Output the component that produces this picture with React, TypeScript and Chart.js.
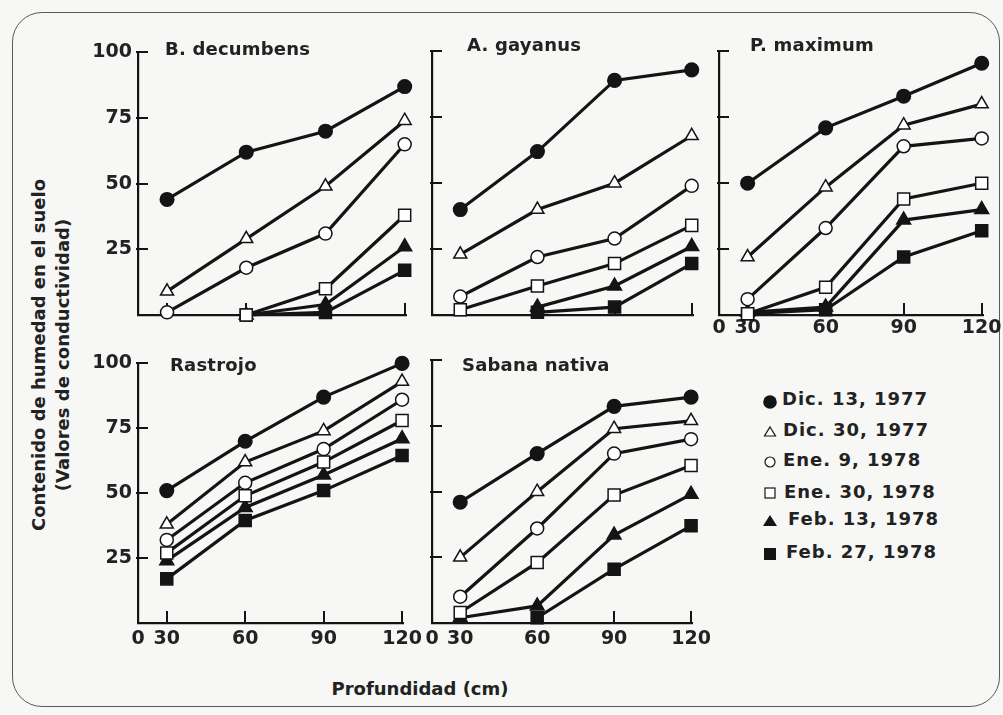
import React, { useEffect, useRef } from "react";
import { Chart, registerables } from "chart.js";

Chart.register(...registerables);

// ---------------- data ----------------
const depths = [30, 60, 90, 120];
const xTickValues = [19, 30, 60, 90, 120];
const xTickLabels = ["0", "30", "60", "90", "120"];
const yTickValues = [25, 50, 75, 100];

const seriesLabels = [
  "Dic. 13, 1977",
  "Dic. 30, 1977",
  "Ene. 9, 1978",
  "Ene. 30, 1978",
  "Feb. 13, 1978",
  "Feb. 27, 1978",
];

// order of rows: Dic13, Dic30, Ene9, Ene30, Feb13, Feb27
const bDecumbens = [
  [44, 62, 70, 87],
  [9, 29, 49, 74],
  [1, 18, 31, 65],
  [null, 0, 10, 38],
  [null, 0, 4, 26],
  [null, 0, 1, 17],
];
const aGayanus = [
  [40, 62, 89, 93],
  [23, 40, 50, 68],
  [7, 22, 29, 49],
  [2, 11, 19.5, 34],
  [null, 3, 11, 26],
  [null, 1, 3, 19.5],
];
const pMaximum = [
  [50, 71, 83, 95.5],
  [22, 48.5, 72, 80],
  [6, 33, 64, 67],
  [0.5, 10.5, 44, 50],
  [1, 3, 36, 40],
  [0.5, 2, 22, 32],
];
const rastrojo = [
  [51, 70, 87, 100],
  [38, 62, 74, 93],
  [32, 54, 67, 86],
  [27, 49, 62, 78],
  [24, 44.5, 57, 71],
  [17, 39.5, 51, 64.5],
];
const sabanaNativa = [
  [46, 64.5, 82.5, 86],
  [25, 50, 74, 77],
  [10, 36, 64.5, 70],
  [4, 23, 48.7, 60],
  [2, 6.5, 33.5, 49],
  [null, 2, 20.5, 37],
];

// ---------------- styles ----------------
const INK = "#141414";
const TEXT = "#222222";
const BG = "#f7f7f6";
const FONT = "'DejaVu Sans', sans-serif";

const pointStyles = ["circle", "triangle", "circle", "rect", "triangle", "rect"];
const pointFilled = [true, false, false, false, true, true];
const pointRadii = [6.8, 7.5, 6.5, 8.5, 8, 8.5];

const YW = 46; // y scale width
const XH = 30; // x scale height
const PT = 14; // top padding
const PR = 22; // right padding
const TICK = 10;

type PanelDef = {
  name: string;
  series: (number | null)[][];
  rect: [number, number, number, number];
  yLabels: boolean;
  xLabels: boolean;
  xPad: number;
  title: [number, number];
};

const panels: PanelDef[] = [
  { name: "B. decumbens", series: bDecumbens, rect: [138, 49, 406, 315], yLabels: true, xLabels: false, xPad: 3, title: [165, 40] },
  { name: "A. gayanus", series: aGayanus, rect: [432, 48, 693, 315], yLabels: false, xLabels: false, xPad: 3, title: [467, 36] },
  { name: "P. maximum", series: pMaximum, rect: [719, 48, 983, 315], yLabels: false, xLabels: true, xPad: 2, title: [750, 36] },
  { name: "Rastrojo", series: rastrojo, rect: [138, 360, 405, 623], yLabels: true, xLabels: true, xPad: 5, title: [170, 356] },
  { name: "Sabana nativa", series: sabanaNativa, rect: [432, 357, 694, 623], yLabels: false, xLabels: true, xPad: 5, title: [462, 356] },
];

const inwardTicks = {
  id: "inwardTicks",
  beforeDatasetsDraw(chart: any) {
    const { ctx, chartArea, scales } = chart;
    ctx.save();
    ctx.strokeStyle = INK;
    ctx.lineWidth = 2;
    ctx.beginPath();
    for (const t of scales.y.ticks) {
      const y = Math.round(scales.y.getPixelForValue(t.value));
      ctx.moveTo(chartArea.left - 2, y);
      ctx.lineTo(chartArea.left + TICK, y);
    }
    for (const t of scales.x.ticks) {
      if (t.value <= scales.x.min) continue;
      const x = Math.round(scales.x.getPixelForValue(t.value));
      ctx.moveTo(x, chartArea.bottom + 1);
      ctx.lineTo(x, chartArea.bottom - TICK - 2);
    }
    ctx.stroke();
    ctx.restore();
  },
};

function makeConfig(p: PanelDef): any {
  const tickFont = { family: FONT, size: 19, weight: "bold" as const };
  return {
    type: "line",
    data: {
      datasets: p.series.map((vals, i) => ({
        label: seriesLabels[i],
        data: depths.map((d, j) => ({ x: d, y: vals[j] })),
        borderColor: INK,
        borderWidth: 3.2,
        pointStyle: pointStyles[i],
        pointRadius: pointRadii[i],
        pointBackgroundColor: pointFilled[i] ? INK : "#ffffff",
        pointBorderColor: INK,
        pointBorderWidth: 1.5,
        clip: false,
        tension: 0,
      })),
    },
    options: {
      animation: false,
      responsive: false,
      maintainAspectRatio: false,
      layout: { padding: { top: PT, right: PR, left: 0, bottom: 0 } },
      plugins: { legend: { display: false }, tooltip: { enabled: false }, title: { display: false } },
      scales: {
        x: {
          type: "linear",
          min: 19,
          max: 120.5,
          afterBuildTicks: (s: any) => {
            s.ticks = xTickValues.map((value) => ({ value }));
          },
          afterFit: (s: any) => {
            s.height = XH;
          },
          ticks: {
            autoSkip: false,
            maxRotation: 0,
            minRotation: 0,
            padding: p.xPad,
            color: TEXT,
            font: tickFont,
            callback: (_v: any, idx: number) => (p.xLabels ? xTickLabels[idx] : ""),
          },
          grid: { display: false, drawTicks: false },
          border: { display: true, color: INK, width: 2.2 },
        },
        y: {
          type: "linear",
          min: 0,
          max: 100,
          afterBuildTicks: (s: any) => {
            s.ticks = yTickValues.map((value) => ({ value }));
          },
          afterFit: (s: any) => {
            s.width = YW;
          },
          ticks: {
            padding: 6,
            color: TEXT,
            font: tickFont,
            callback: (v: any) => (p.yLabels ? String(v) : ""),
          },
          grid: { display: false, drawTicks: false },
          border: { display: true, color: INK, width: 2.2 },
        },
      },
    },
    plugins: [inwardTicks],
  };
}

function Panel({ p }: { p: PanelDef }) {
  const ref = useRef<HTMLCanvasElement>(null);
  const [L, T, R, B] = p.rect;
  const W = R - L + YW + PR;
  const H = B - T + PT + XH;
  useEffect(() => {
    const chart = new Chart(ref.current as HTMLCanvasElement, makeConfig(p));
    return () => chart.destroy();
  }, []);
  return (
    <>
      <canvas
        ref={ref}
        width={W}
        height={H}
        style={{ position: "absolute", left: L - YW, top: T - PT, width: W, height: H }}
      />
      <div
        style={{
          position: "absolute",
          left: p.title[0],
          top: p.title[1],
          font: `bold 18px ${FONT}`,
          lineHeight: "18px",
          letterSpacing: "0.2px",
          color: TEXT,
          whiteSpace: "nowrap",
        }}
      >
        {p.name}
      </div>
    </>
  );
}

const legendRowTops = [392, 423, 453, 485, 512, 545];
const legendTextLefts = [782, 783, 783, 784, 788, 786];
const legendMarkerY = [402, 432, 462, 493, 521, 554];

function LegendMarker({ i, cx, cy }: { i: number; cx: number; cy: number }) {
  const s = 18;
  const c = s / 2;
  let shape: any = null;
  if (i === 0) shape = <circle cx={c} cy={c} r={6.8} fill={INK} />;
  if (i === 1) shape = <polygon points={`${c},${c - 5} ${c + 5.5},${c + 4} ${c - 5.5},${c + 4}`} fill="#fff" stroke={INK} strokeWidth={1.2} />;
  if (i === 2) shape = <circle cx={c} cy={c} r={5} fill="#fff" stroke={INK} strokeWidth={1.2} />;
  if (i === 3) shape = <rect x={c - 5} y={c - 5} width={10} height={10} fill="#fff" stroke={INK} strokeWidth={1.2} />;
  if (i === 4) shape = <polygon points={`${c},${c - 6} ${c + 7},${c + 5} ${c - 7},${c + 5}`} fill={INK} />;
  if (i === 5) shape = <rect x={c - 6} y={c - 6} width={12} height={12} fill={INK} />;
  return (
    <svg width={s} height={s} style={{ position: "absolute", left: cx - c, top: cy - c }}>
      {shape}
    </svg>
  );
}

export default function App() {
  return (
    <div
      style={{
        position: "fixed",
        left: 0,
        top: 0,
        width: 1003,
        height: 715,
        background: BG,
        overflow: "hidden",
        fontFamily: FONT,
      }}
    >
      <div
        style={{
          position: "absolute",
          left: 12,
          top: 12,
          width: 988,
          height: 695,
          border: "1.6px solid #5a5a5a",
          borderRadius: 30,
          boxSizing: "border-box",
        }}
      />
      {panels.map((p) => (
        <Panel key={p.name} p={p} />
      ))}
      {/* y axis title */}
      <div
        style={{
          position: "absolute",
          left: 51,
          top: 355,
          transform: "translate(-50%, -50%) rotate(-90deg)",
          font: `bold 18px ${FONT}`,
          lineHeight: "24px",
          color: TEXT,
          textAlign: "center",
          whiteSpace: "nowrap",
        }}
      >
        <div>Contenido de humedad en el suelo</div>
        <div>(Valores de conductividad)</div>
      </div>
      {/* x axis title */}
      <div
        style={{
          position: "absolute",
          left: 420,
          top: 680,
          transform: "translateX(-50%)",
          font: `bold 18px ${FONT}`,
          lineHeight: "18px",
          color: TEXT,
          whiteSpace: "nowrap",
        }}
      >
        Profundidad (cm)
      </div>
      {/* legend */}
      {seriesLabels.map((lab, i) => (
        <React.Fragment key={lab}>
          <LegendMarker i={i} cx={770} cy={legendMarkerY[i]} />
          <div
            style={{
              position: "absolute",
              left: legendTextLefts[i],
              top: legendRowTops[i] - 2,
              font: `bold 18px ${FONT}`,
              lineHeight: "18px",
              letterSpacing: "1px",
              color: TEXT,
              whiteSpace: "nowrap",
            }}
          >
            {lab}
          </div>
        </React.Fragment>
      ))}
    </div>
  );
}
